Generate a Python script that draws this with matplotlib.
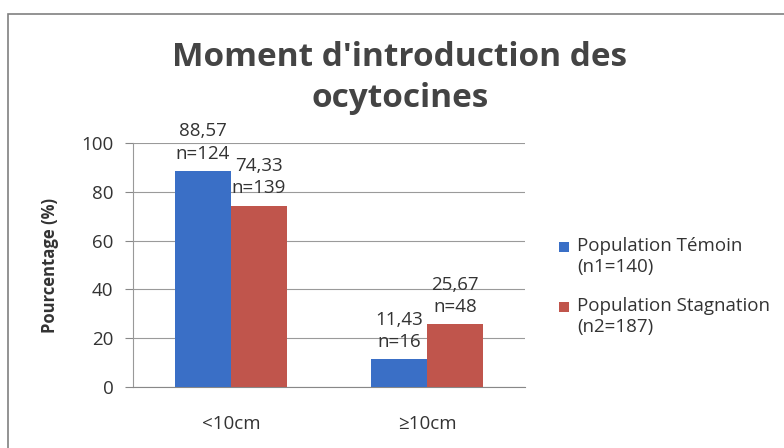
import matplotlib
matplotlib.use("Agg")
import matplotlib.pyplot as plt
from matplotlib.patches import Rectangle
import numpy as np

categories = ["<10cm", "≥10cm"]
series_names = ["Population Témoin\n(n1=140)", "Population Stagnation\n(n2=187)"]
temoin = [88.57, 11.43]
stagnation = [74.33, 25.67]
temoin_n = [124, 16]
stagnation_n = [139, 48]
yticks = [0, 20, 40, 60, 80, 100]

plt.rcParams['font.family'] = ['Open Sans', 'DejaVu Sans']
W, H = 784, 448
fig = plt.figure(figsize=(W/100, H/100), dpi=100)
fig.patch.set_facecolor('white')

# outer chart border
fig.add_artist(Rectangle((8/W, -0.05), 1.0, (H-14)/H + 0.05, transform=fig.transFigure,
                         fill=False, edgecolor='#808080', linewidth=1.2))

ax = fig.add_axes([133/W, 1-387/H, (525-133)/W, (387-143)/H])
x = np.arange(len(categories))
bw = 0.286
c_blue = '#3A6FC6'
c_red = '#C0554C'
colors = [c_blue, c_red]
b1 = ax.bar(x - bw/2, temoin, bw, color=c_blue, zorder=3)
b2 = ax.bar(x + bw/2, stagnation, bw, color=c_red, zorder=3)

for bars, vals, ns in [(b1, temoin, temoin_n), (b2, stagnation, stagnation_n)]:
    for r, v, n in zip(bars, vals, ns):
        ax.annotate(f"{v:.2f}".replace('.', ',') + f"\nn={n}",
                    (r.get_x() + r.get_width()/2, v), xytext=(0, 6),
                    textcoords='offset points', ha='center', va='bottom',
                    fontsize=13.5, color='#333333', linespacing=1.3, zorder=4)

ax.set_xlim(-0.5, 1.5)
ax.set_ylim(0, 100)
ax.set_yticks(yticks)
ax.set_xticks(x)
ax.set_xticklabels(categories)
ax.tick_params(axis='x', length=0, pad=20, labelsize=13.5, colors='#333333')
ax.tick_params(axis='y', length=6, width=0.8, color='#888888', labelsize=13.5, colors='#333333', pad=8)
ax.grid(axis='y', color='#9a9a9a', linewidth=0.8, zorder=0)
for s in ['top', 'right']:
    ax.spines[s].set_visible(False)
ax.spines['left'].set_color('#999999')
ax.spines['bottom'].set_color('#888888')
ax.set_ylabel("Pourcentage (%)", fontsize=12, fontweight='bold', color='#333333', labelpad=16)

fig.text(400/W, 1-78/H, "Moment d'introduction des\nocytocines", ha='center', va='center',
         fontsize=24, fontweight='bold', color='#444444', linespacing=1.35)

# legend
leg_y = [247, 307]
for name, col, yy in zip(series_names, colors, leg_y):
    fig.add_artist(Rectangle((559/W, 1-(yy+5)/H), 10/W, 10/H, transform=fig.transFigure,
                             facecolor=col, edgecolor='none'))
    fig.text(577/W, 1-(yy-10)/H, name, ha='left', va='top', fontsize=13.5,
             color='#333333', linespacing=1.2)

fig.savefig("out.png", dpi=100)
